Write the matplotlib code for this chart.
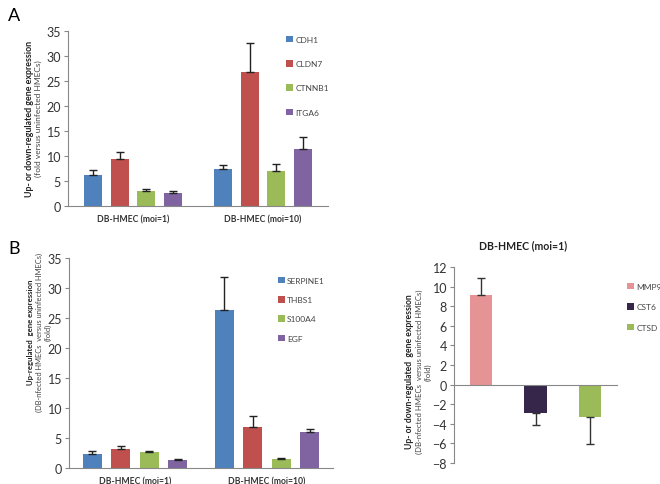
import numpy as np
import matplotlib.pyplot as plt

plt.rcParams['font.family'] = ['Lato', 'DejaVu Sans']

# panel A data
groups = ['DB-HMEC (moi=1)', 'DB-HMEC (moi=10)']
genes_a = ['CDH1', 'CLDN7', 'CTNNB1', 'ITGA6']
vals_a = [[6.3, 7.4], [9.4, 26.9], [3.0, 7.0], [2.6, 11.4]]
errs_a = [[0.9, 0.8], [1.5, 5.7], [0.4, 1.5], [0.4, 2.4]]

# panel B (left) data
genes_b = ['SERPINE1', 'THBS1', 'S100A4', 'EGF']
vals_b = [[2.4, 26.3], [3.1, 6.9], [2.6, 1.5], [1.3, 6.0]]
errs_b = [[0.5, 5.6], [0.5, 1.7], [0.3, 0.15], [0.15, 0.5]]

# panel B (right) data
genes_c = ['MMP9', 'CST6', 'CTSD']
vals_c = [9.1, -2.9, -3.3]
errs_c = [1.8, 1.2, 2.8]

colors4 = ['#4F81BD', '#C0504D', '#9BBB59', '#8064A2']
colors3 = ['#E59395', '#35264A', '#9BBB59']

W, H = 660, 485
fig = plt.figure(figsize=(6.6, 4.85), dpi=100)


def px_axes(l, t, r, b):
    return fig.add_axes([l / W, 1 - b / H, (r - l) / W, (b - t) / H])


def style(ax):
    for s in ['top', 'right']:
        ax.spines[s].set_visible(False)
    for s in ['left', 'bottom']:
        ax.spines[s].set_color('#888888')
        ax.spines[s].set_linewidth(0.8)
    ax.tick_params(axis='y', labelsize=9, length=3, pad=2, color='#888888', labelcolor='#333333')
    ax.tick_params(axis='x', length=0)


def add_legend(ax, x, y, spacing):
    ax.legend(loc='upper left', bbox_to_anchor=(x / W, 1 - y / H), bbox_transform=fig.transFigure,
              frameon=False, fontsize=6, handlelength=0.8, handleheight=0.8, borderpad=0,
              borderaxespad=0, handletextpad=0.3, labelspacing=spacing, labelcolor='#444444')


def grouped(ax, vals, errs, names, width, step):
    x = np.arange(len(groups))
    n = len(names)
    for i in range(n):
        pos = x + (i - (n - 1) / 2) * step
        ax.bar(pos, vals[i], width, color=colors4[i], label=names[i])
        ax.errorbar(pos, vals[i], yerr=[np.zeros(len(x)), errs[i]], fmt='none',
                    ecolor='#222222', elinewidth=1, capsize=3, capthick=1)
    ax.set_xlim(-0.5, 1.5)
    ax.set_ylim(0, 35)
    ax.set_yticks(range(0, 36, 5))
    ax.set_xticks(x)
    ax.set_xticklabels(groups, fontsize=6.2, fontweight='bold', color='#333333')
    ax.tick_params(axis='x', pad=6)
    style(ax)


# panel A
axA = px_axes(68, 32, 328, 207)
grouped(axA, vals_a, errs_a, genes_a, 0.138, 0.207)
add_legend(axA, 286, 37, 2.05)
fig.text(8 / W, 1 - 16 / H, 'A', fontsize=13, va='center')
fig.text(30 / W, 1 - 119 / H, 'Up- or down-regulated gene expression', rotation=90,
         fontsize=6.4, fontweight='bold', va='center', ha='center', color='#222222')
fig.text(38 / W, 1 - 119 / H, '(fold versus uninfected HMECs)', rotation=90,
         fontsize=6, va='center', ha='center', color='#444444')

# panel B left
axB = px_axes(69, 259, 333, 469)
grouped(axB, vals_b, errs_b, genes_b, 0.144, 0.216)
add_legend(axB, 278, 278, 1.45)
fig.text(8 / W, 1 - 249 / H, 'B', fontsize=13, va='center')
fig.text(31 / W, 1 - 332 / H, 'Up-regulated  gene expression', rotation=90,
         fontsize=5.6, fontweight='bold', va='center', ha='center', color='#222222')
fig.text(39 / W, 1 - 332 / H, '(DB-nfected HMECs  versus uninfected HMECs)', rotation=90,
         fontsize=5.4, va='center', ha='center', color='#444444')
fig.text(48 / W, 1 - 332 / H, '(fold)', rotation=90,
         fontsize=5.4, va='center', ha='center', color='#444444')

# panel B right
axC = px_axes(454, 268, 617, 464)
xc = np.arange(len(genes_c))
for i in range(len(genes_c)):
    v = vals_c[i]
    axC.bar(xc[i], v, 0.41, color=colors3[i], label=genes_c[i])
    lo, hi = (0, errs_c[i]) if v > 0 else (errs_c[i], 0)
    axC.errorbar(xc[i], v, yerr=[[lo], [hi]], fmt='none', ecolor='#333333',
                 elinewidth=1, capsize=3, capthick=1)
axC.set_xlim(-0.5, 2.5)
axC.set_ylim(-8, 12)
axC.set_yticks(range(-8, 13, 2))
axC.set_xticks([])
style(axC)
axC.spines['bottom'].set_position(('data', 0))
fig.text(523 / W, 1 - 246 / H, 'DB-HMEC (moi=1)', fontsize=7.6, fontweight='bold',
         color='#222222', ha='center', va='center')
add_legend(axC, 627, 284, 1.58)
fig.text(410 / W, 1 - 372 / H, 'Up- or down-regulated  gene expression', rotation=90,
         fontsize=6.2, fontweight='bold', va='center', ha='center', color='#222222')
fig.text(419 / W, 1 - 372 / H, '(DB-nfected HMECs  versus uninfected HMECs)', rotation=90,
         fontsize=5.6, va='center', ha='center', color='#444444')
fig.text(428 / W, 1 - 372 / H, '(fold)', rotation=90,
         fontsize=5.6, va='center', ha='center', color='#444444')

fig.savefig('out.png', dpi=100)
